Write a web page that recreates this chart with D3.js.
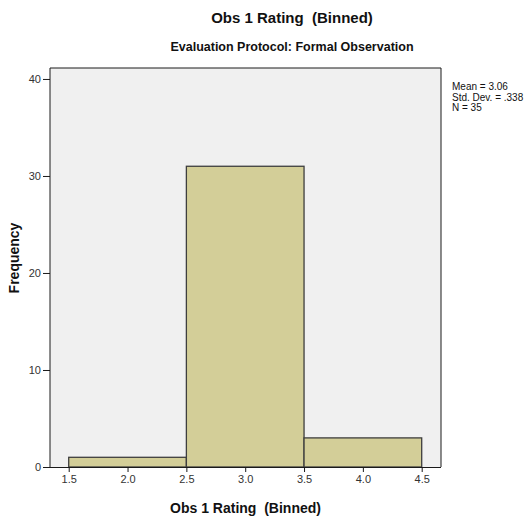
<!DOCTYPE html>
<html>
<head>
<meta charset="utf-8">
<script src="https://cdn.jsdelivr.net/npm/d3@7/dist/d3.min.js"></script>
<style>
  html, body { margin: 0; padding: 0; background: #ffffff; }
  svg { display: block; font-family: "Liberation Sans", Arial, sans-serif; }
  svg text { white-space: pre; }
</style>
</head>
<body>
<svg id="chart" width="528" height="521"></svg>
<script>
// Histogram bins: lower edge, upper edge, frequency
const binStarts = [1.5, 2.5, 3.5];
const binEnds = [2.5, 3.5, 4.5];
const frequencies = [1, 31, 3];
const xTicks = [1.5, 2.0, 2.5, 3.0, 3.5, 4.0, 4.5];
const yTicks = [0, 10, 20, 30, 40];
const statLines = ["Mean = 3.06", "Std. Dev. = .338", "N = 35"];

const svg = d3.select("#chart");
const plot = { left: 50, right: 441, top: 68, bottom: 467 };

const x = d3.scaleLinear().domain([1.341, 4.664]).range([plot.left, plot.right]);
const y = d3.scaleLinear().domain([0, 41.13]).range([plot.bottom, plot.top]);

// Plot background
svg.append("rect")
  .attr("x", plot.left).attr("y", plot.top)
  .attr("width", plot.right - plot.left).attr("height", plot.bottom - plot.top)
  .attr("fill", "#f0f0f0");

// Bars
svg.append("g").selectAll("rect")
  .data(frequencies.map((f, i) => ({ x0: binStarts[i], x1: binEnds[i], f })))
  .join("rect")
  .attr("x", d => x(d.x0))
  .attr("y", d => y(d.f))
  .attr("width", d => x(d.x1) - x(d.x0))
  .attr("height", d => y(0) - y(d.f))
  .attr("fill", "#d3ce98")
  .attr("stroke", "#3e3e3e")
  .attr("stroke-width", 1.3);

// Frame (top, right, left)
svg.append("path")
  .attr("d", `M${plot.left},${plot.bottom}V${plot.top}H${plot.right}V${plot.bottom}`)
  .attr("fill", "none").attr("stroke", "#1a1a1a").attr("stroke-width", 1);

// Axes
const xAxis = d3.axisBottom(x).tickValues(xTicks).tickFormat(d3.format(".1f"))
  .tickSizeInner(5).tickSizeOuter(0).tickPadding(3);
const gx = svg.append("g").attr("transform", `translate(0,${plot.bottom})`).call(xAxis);
gx.select(".domain").attr("d", `M43.5,0.5H${plot.right}`).attr("stroke", "#1a1a1a");

const yAxis = d3.axisLeft(y).tickValues(yTicks).tickFormat(d3.format("d"))
  .tickSizeInner(7).tickSizeOuter(0).tickPadding(2);
const gy = svg.append("g").attr("transform", `translate(${plot.left},0)`).call(yAxis);
gy.select(".domain").remove();

[gx, gy].forEach(g => {
  g.selectAll(".tick line").attr("stroke", "#1a1a1a");
  g.selectAll(".tick text")
    .attr("fill", "#333")
    .style("font-family", "'Liberation Sans', Arial, sans-serif")
    .style("font-size", "11px");
});

// Titles
svg.append("text")
  .attr("x", 292).attr("y", 23)
  .attr("text-anchor", "middle")
  .style("font-size", "15px").style("font-weight", "bold")
  .attr("fill", "#111")
  .text("Obs 1 Rating  (Binned)");

svg.append("text")
  .attr("x", 292).attr("y", 51)
  .attr("text-anchor", "middle")
  .style("font-size", "12.5px").style("font-weight", "bold")
  .attr("fill", "#111")
  .text("Evaluation Protocol: Formal Observation");

svg.append("text")
  .attr("x", (plot.left + plot.right) / 2).attr("y", 513)
  .attr("text-anchor", "middle")
  .style("font-size", "14px").style("font-weight", "bold")
  .attr("fill", "#111")
  .text("Obs 1 Rating  (Binned)");

svg.append("text")
  .attr("transform", "translate(19,258) rotate(-90)")
  .attr("text-anchor", "middle")
  .style("font-size", "14px").style("font-weight", "bold")
  .attr("fill", "#111")
  .text("Frequency");

// Summary statistics
svg.append("g").selectAll("text")
  .data(statLines)
  .join("text")
  .attr("x", 452)
  .attr("y", (d, i) => 90 + i * 10.5)
  .style("font-size", "10px")
  .attr("fill", "#111")
  .text(d => d);
</script>
</body>
</html>
